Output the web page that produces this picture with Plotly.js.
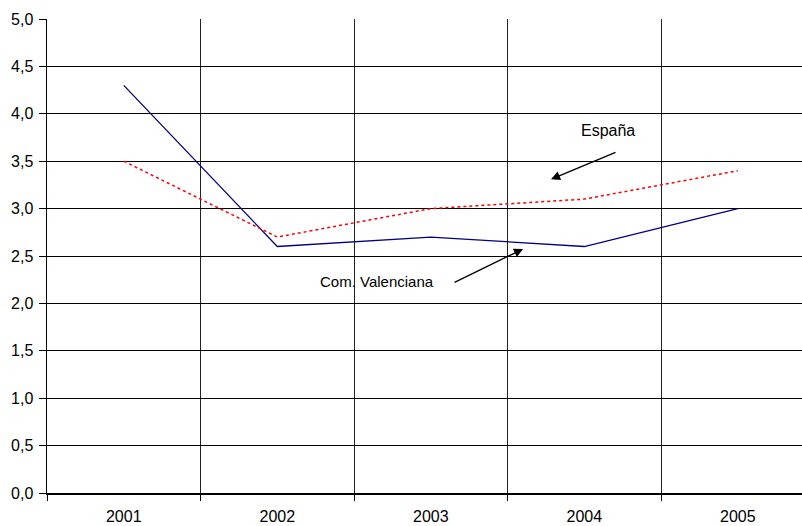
<!DOCTYPE html>
<html><head><meta charset="utf-8">
<script src="https://cdn.plot.ly/plotly-3.0.1.min.js"></script>
<style>html,body{margin:0;padding:0;background:#fff}</style>
</head><body>
<div id="chart" style="width:802px;height:526px"></div>
<script>
const years = ["2001","2002","2003","2004","2005"];
const comValenciana = [4.3, 2.6, 2.7, 2.6, 3.0];
const espana = [3.5, 2.7, 3.0, 3.1, 3.4];
const yTicks = [0,0.5,1,1.5,2,2.5,3,3.5,4,4.5,5];

const traces = [
  {x: years, y: comValenciana, type:'scatter', mode:'lines', name:'Com. Valenciana',
   line:{color:'#000080', width:1.3}},
  {x: years, y: espana, type:'scatter', mode:'lines', name:'España',
   line:{color:'#ff0000', width:1.5, dash:'dot'}}
];
const font = {family:'"Liberation Sans", Arial, sans-serif', size:16, color:'#000'};
const fontSmall = {family:'"Liberation Sans", Arial, sans-serif', size:15, color:'#000'};
const layout = {
  width:802, height:526,
  margin:{l:47, r:0, t:19, b:33},
  paper_bgcolor:'#fff', plot_bgcolor:'#fff',
  showlegend:false,
  separators:',.',
  font: font,
  xaxis:{type:'category', range:[-0.5, 4.418], tickson:'boundaries',
    showgrid:true, gridcolor:'#222', gridwidth:1,
    ticks:'outside', ticklen:6, tickcolor:'#000', tickwidth:1,
    showline:true, linecolor:'#000', linewidth:2, zeroline:false,
    tickfont:font, ticklabelstandoff:8, fixedrange:true},
  yaxis:{range:[0,5], tickvals:yTicks, tickformat:'.1f',
    showgrid:true, gridcolor:'#000', gridwidth:1,
    ticks:'outside', ticklen:7, tickcolor:'#000', tickwidth:1,
    showline:true, linecolor:'#000', linewidth:1.5, zeroline:false,
    tickfont:font, ticklabelstandoff:2, fixedrange:true},
  annotations:[
    {x:3.155, y:3.82, xref:'x', yref:'y', text:'España', showarrow:false, font:font},
    {x:2.783, y:3.31, ax:3.213, ay:3.60, axref:'x', ayref:'y', xref:'x', yref:'y',
     text:'', showarrow:true, arrowhead:2, arrowsize:1.3, arrowwidth:1.4, arrowcolor:'#000'},
    {x:1.65, y:2.226, xref:'x', yref:'y', text:'Com. Valenciana', showarrow:false, font:fontSmall},
    {x:2.601, y:2.574, ax:2.145, ay:2.215, axref:'x', ayref:'y', xref:'x', yref:'y',
     text:'', showarrow:true, arrowhead:2, arrowsize:1.3, arrowwidth:1.4, arrowcolor:'#000'}
  ]
};
Plotly.newPlot('chart', traces, layout, {displayModeBar:false, staticPlot:true});
</script>
</body></html>
